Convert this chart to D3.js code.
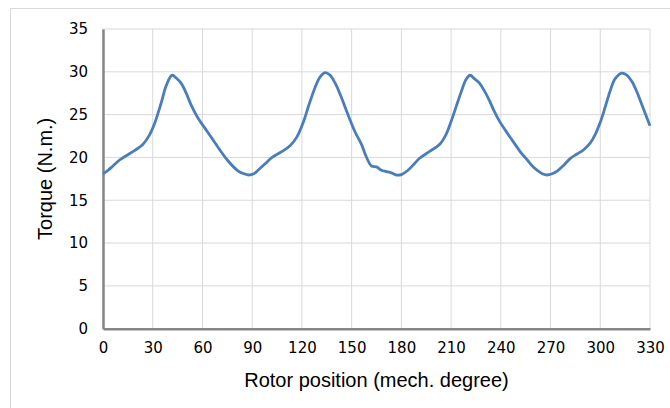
<!DOCTYPE html>
<html>
<head>
<meta charset="utf-8">
<script src="https://cdn.jsdelivr.net/npm/d3@7"></script>
<style>
  body { margin: 0; background: #fff; }
  .tick text { font-family: "DejaVu Sans", Verdana, sans-serif; font-size: 15px; fill: #000; }
  .axis-title { font-family: "Liberation Sans", Arial, sans-serif; font-size: 20px; fill: #000; }
</style>
</head>
<body>
<div id="chart"></div>
<script>
// rotor position (mech. degree)
var position = [0, 3, 6, 10, 14, 19, 24, 28, 31, 35, 38, 41, 42, 44, 47, 50, 53, 57, 63, 69,
  75, 81, 85, 88, 91, 94, 98, 102, 108, 113, 117, 121, 124, 128, 131, 134, 137, 140, 143, 146,
  149, 152, 156, 159, 162, 165, 168, 171, 174, 177, 180, 184, 188, 191, 197, 203, 207, 210, 213, 216,
  219, 221.5, 224, 227, 230, 233, 236, 239, 243, 248, 252, 256, 259, 262, 265, 268, 271, 274, 278, 282,
  286, 290, 294, 297, 300, 303, 306, 309, 313, 316, 319, 322, 325, 328, 330];

// torque (N.m.)
var torque = [18.1, 18.5, 19.0, 19.7, 20.2, 20.8, 21.5, 22.6, 23.9, 26.3, 28.3, 29.5, 29.6, 29.3, 28.7, 27.6, 26.2, 24.7, 23.0, 21.3,
  19.7, 18.5, 18.1, 17.95, 18.1, 18.6, 19.3, 20.0, 20.7, 21.4, 22.4, 24.2, 26.0, 28.2, 29.4, 29.9, 29.6, 28.7, 27.4, 25.9,
  24.4, 23.0, 21.5, 20.0, 19.0, 18.9, 18.5, 18.35, 18.2, 17.95, 18.0, 18.5, 19.3, 19.9, 20.7, 21.5, 22.7, 24.2, 25.9, 27.6,
  29.1, 29.6, 29.2, 28.7, 27.8, 26.7, 25.4, 24.3, 23.1, 21.7, 20.6, 19.7, 19.0, 18.5, 18.1, 17.95, 18.1, 18.4, 19.1, 19.9,
  20.4, 20.9, 21.7, 22.7, 24.1, 25.9, 27.8, 29.2, 29.85, 29.6, 28.9, 27.7, 26.2, 24.7, 23.7];

var xTicks = [0, 30, 60, 90, 120, 150, 180, 210, 240, 270, 300, 330];
var yTicks = [0, 5, 10, 15, 20, 25, 30, 35];

var svgWidth = 670;
var svgHeight = 408;

var margin = { top: 29, right: 20, bottom: 79, left: 103 };
var width = 650 - margin.left;
var height = 328.7 - margin.top;

var svg = d3.select("#chart")
  .append("svg")
  .attr("width", svgWidth)
  .attr("height", svgHeight);

// light frame round the chart area
svg.append("rect")
  .attr("x", 10.5)
  .attr("y", 8.5)
  .attr("width", 700)
  .attr("height", 450)
  .attr("fill", "none")
  .attr("stroke", "#d9d9d9");

var chartGroup = svg.append("g")
  .attr("transform", `translate(${margin.left}, ${margin.top})`);

var xScale = d3.scaleLinear().domain([0, 330]).range([0, width]);
var yScale = d3.scaleLinear().domain([0, 35]).range([height, 0]);

// gridlines
chartGroup.append("g")
  .selectAll("line.hgrid")
  .data(yTicks)
  .enter()
  .append("line")
  .attr("x1", 0)
  .attr("x2", width)
  .attr("y1", d => yScale(d))
  .attr("y2", d => yScale(d))
  .attr("stroke", "#d9d9d9")
  .attr("stroke-width", 1);

chartGroup.append("g")
  .selectAll("line.vgrid")
  .data(xTicks)
  .enter()
  .append("line")
  .attr("x1", d => xScale(d))
  .attr("x2", d => xScale(d))
  .attr("y1", 0)
  .attr("y2", height)
  .attr("stroke", "#d9d9d9")
  .attr("stroke-width", 1);

// axes
var bottomAxis = d3.axisBottom(xScale).tickValues(xTicks).tickSize(0).tickPadding(14);
var leftAxis = d3.axisLeft(yScale).tickValues(yTicks).tickSize(0).tickPadding(15);

var xAxis = chartGroup.append("g")
  .attr("transform", `translate(0, ${height})`)
  .call(bottomAxis);
xAxis.select(".domain").attr("stroke", "#868686").attr("stroke-width", 2.5);

var yAxis = chartGroup.append("g")
  .call(leftAxis);
yAxis.select(".domain").attr("stroke", "#868686").attr("stroke-width", 2.5);

// torque curve
var points = position.map((p, i) => [p, torque[i]]);

var line = d3.line()
  .x(d => xScale(d[0]))
  .y(d => yScale(d[1]))
  .curve(d3.curveCatmullRom.alpha(0.5));

chartGroup.append("path")
  .datum(points)
  .attr("d", line)
  .attr("fill", "none")
  .attr("stroke", "#4a7ebb")
  .attr("stroke-width", 2.8)
  .attr("stroke-linejoin", "round");

// axis titles
chartGroup.append("text")
  .attr("class", "axis-title")
  .attr("x", width / 2)
  .attr("y", height + 58)
  .attr("text-anchor", "middle")
  .text("Rotor position (mech. degree)");

chartGroup.append("text")
  .attr("class", "axis-title")
  .attr("transform", "rotate(-90)")
  .attr("x", -height / 2)
  .attr("y", -51)
  .attr("text-anchor", "middle")
  .text("Torque (N.m.)");
</script>
</body>
</html>
